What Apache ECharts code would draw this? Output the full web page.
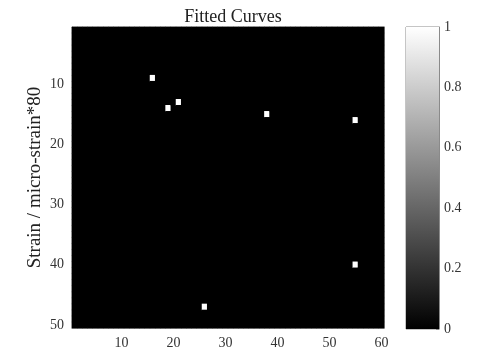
<!DOCTYPE html>
<html>
<head>
<meta charset="utf-8">
<script src="https://cdn.jsdelivr.net/npm/echarts@6/dist/echarts.min.js"></script>
<style>
  html, body { margin: 0; padding: 0; background: #fff; }
  #chart { width: 480px; height: 354px; }
</style>
</head>
<body>
<div id="chart"></div>
<script>
// image size (columns x rows)
var nCols = 60;
var nRows = 50;
// the bright pixels, everything else is 0
var hotCols = [16, 19, 21, 38, 55, 55, 26];
var hotRows = [9, 14, 13, 15, 16, 40, 47];
var hotVals = [1, 1, 1, 1, 1, 1, 1];
var colorbarTicks = [0, 0.2, 0.4, 0.6, 0.8, 1];

var xCats = [];
for (var i = 1; i <= nCols; i++) xCats.push(String(i));
var yCats = [];
for (var j = 1; j <= nRows; j++) yCats.push(String(j));

// full matrix of cells
var cells = [];
var lookup = {};
for (var k = 0; k < hotCols.length; k++) {
  lookup[hotCols[k] + '_' + hotRows[k]] = hotVals[k];
}
for (var c = 1; c <= nCols; c++) {
  for (var r = 1; r <= nRows; r++) {
    var v = lookup[c + '_' + r] || 0;
    cells.push([c - 1, r - 1, v]);
  }
}

var every10 = function (idx) { return (idx + 1) % 10 === 0; };
var font = '"Liberation Serif", "Times New Roman", serif';
var gray = '#8a8a8a';

var myChart = echarts.init(document.getElementById('chart'));
var option = {
  backgroundColor: '#fff',
  animation: false,
  textStyle: { fontFamily: font },
  title: {
    text: 'Fitted Curves',
    left: 228,
    textAlign: 'center',
    top: 3,
    textStyle: { fontFamily: font, fontSize: 18, fontWeight: 'normal', color: '#222' }
  },
  grid: [
    { left: 72, top: 27, width: 312, height: 301, show: true, backgroundColor: '#000', borderColor: gray, borderWidth: 1 },
    { left: 406, top: 27, width: 33, height: 302, show: true, borderColor: gray, borderWidth: 1 }
  ],
  visualMap: {
    show: false,
    min: 0,
    max: 1,
    seriesIndex: 0,
    inRange: { color: ['#000000', '#ffffff'] }
  },
  xAxis: [
    {
      type: 'category', gridIndex: 0, data: xCats, position: 'bottom',
      axisLine: { lineStyle: { color: gray } },
      axisTick: { inside: true, length: 3, interval: every10, alignWithLabel: true, lineStyle: { color: gray } },
      axisLabel: { interval: every10, margin: 8, fontSize: 14, color: '#333', fontFamily: font },
      splitLine: { show: false }
    },
    {
      type: 'category', gridIndex: 0, data: xCats, position: 'top',
      axisLine: { lineStyle: { color: gray } },
      axisTick: { inside: true, length: 3, interval: every10, alignWithLabel: true, lineStyle: { color: gray } },
      axisLabel: { show: false }
    },
    {
      type: 'category', gridIndex: 1, data: [''],
      axisLine: { show: false }, axisTick: { show: false }, axisLabel: { show: false }
    }
  ],
  yAxis: [
    {
      type: 'category', gridIndex: 0, data: yCats, inverse: true, position: 'left',
      name: 'Strain / micro-strain*80',
      nameLocation: 'middle',
      nameGap: 27,
      nameMoveOverlap: false,
      nameTextStyle: { fontFamily: font, fontSize: 19, color: '#222' },
      axisLine: { lineStyle: { color: gray } },
      axisTick: { inside: true, length: 3, interval: every10, alignWithLabel: true, lineStyle: { color: gray } },
      axisLabel: { interval: every10, margin: 8, fontSize: 14, color: '#333', fontFamily: font },
      splitLine: { show: false }
    },
    {
      type: 'category', gridIndex: 0, data: yCats, inverse: true, position: 'right',
      axisLine: { lineStyle: { color: gray } },
      axisTick: { inside: true, length: 3, interval: every10, alignWithLabel: true, lineStyle: { color: gray } },
      axisLabel: { show: false }
    },
    {
      type: 'value', gridIndex: 1, min: 0, max: 1, interval: 0.2, position: 'right',
      axisLine: { show: true, lineStyle: { color: gray } },
      axisTick: { show: true, inside: true, length: 3, lineStyle: { color: gray } },
      axisLabel: { margin: 5, fontSize: 14, color: '#333', fontFamily: font },
      splitLine: { show: false }
    }
  ],
  series: [
    {
      type: 'heatmap',
      xAxisIndex: 0,
      yAxisIndex: 0,
      data: cells,
      itemStyle: { borderWidth: 0 },
      emphasis: { disabled: true }
    },
    {
      type: 'bar',
      xAxisIndex: 2,
      yAxisIndex: 2,
      barWidth: '100%',
      data: [colorbarTicks[colorbarTicks.length - 1]],
      itemStyle: {
        color: new echarts.graphic.LinearGradient(0, 0, 0, 1, [
          { offset: 0, color: '#ffffff' },
          { offset: 1, color: '#000000' }
        ])
      },
      silent: true
    }
  ]
};
myChart.setOption(option);
</script>
</body>
</html>
